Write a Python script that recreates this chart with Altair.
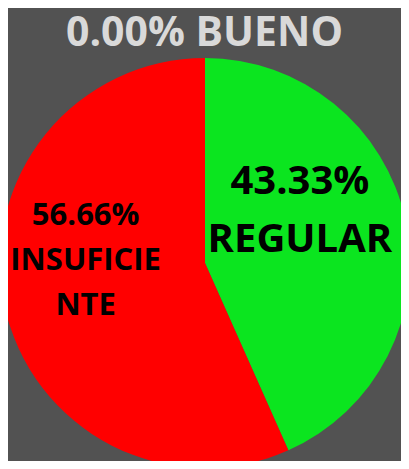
import altair as alt
import pandas as pd

categories = ["BUENO", "REGULAR", "INSUFICIENTE"]
values = [0.00, 43.33, 56.66]
labels = ["0.00% BUENO", "43.33%\nREGULAR", "56.66%\nINSUFICIE\nNTE"]
colors = ["#4472c4", "#0be51f", "#ff0000"]
title_text = "0.00% BUENO"

df = pd.DataFrame({"cat": categories, "value": values, "label": labels,
                   "idx": list(range(len(categories)))})
total = sum(values)

base = alt.Chart(df).transform_window(
    v1="sum(value)", sort=[alt.SortField("idx")], frame=[None, 0]
).transform_calculate(
    v0="datum.v1 - datum.value", mid="datum.v1 - datum.value / 2"
)

theta_scale = alt.Scale(domain=[0, total], nice=False, zero=True)
cx = alt.value(197)
cy = alt.value(255)

pie = base.mark_arc(radius=205).encode(
    theta=alt.Theta("v0:Q", scale=theta_scale),
    theta2="v1:Q",
    color=alt.Color("cat:N", scale=alt.Scale(domain=categories, range=colors), legend=None),
    x=cx, y=cy,
)

text_common = dict(font="Open Sans", fontWeight="bold", color="black",
                   lineBreak="\n", align="center", baseline="middle")

green = base.transform_filter("datum.cat == 'REGULAR'").mark_text(
    radius=97, dy=-61, fontSize=40, lineHeight=58, **text_common
).encode(theta=alt.Theta("mid:Q", scale=theta_scale), text="label:N", x=cx, y=cy)

red = base.transform_filter("datum.cat == 'INSUFICIENTE'").mark_text(
    radius=122, dy=-72, fontSize=31, lineHeight=45, **text_common
).encode(theta=alt.Theta("mid:Q", scale=theta_scale), text="label:N", x=cx, y=cy)

chart = alt.layer(pie, green, red).properties(
    width=393, height=453, padding=0, autosize="none",
    background="#525252",
    title=alt.Title(title_text, fontSize=41, font="Open Sans", fontWeight="bold",
                    color="#d9d9d9", anchor="middle", dy=51),
).configure_view(stroke=None)

chart.save("out.html", embed_options={"renderer": "svg", "actions": False})
